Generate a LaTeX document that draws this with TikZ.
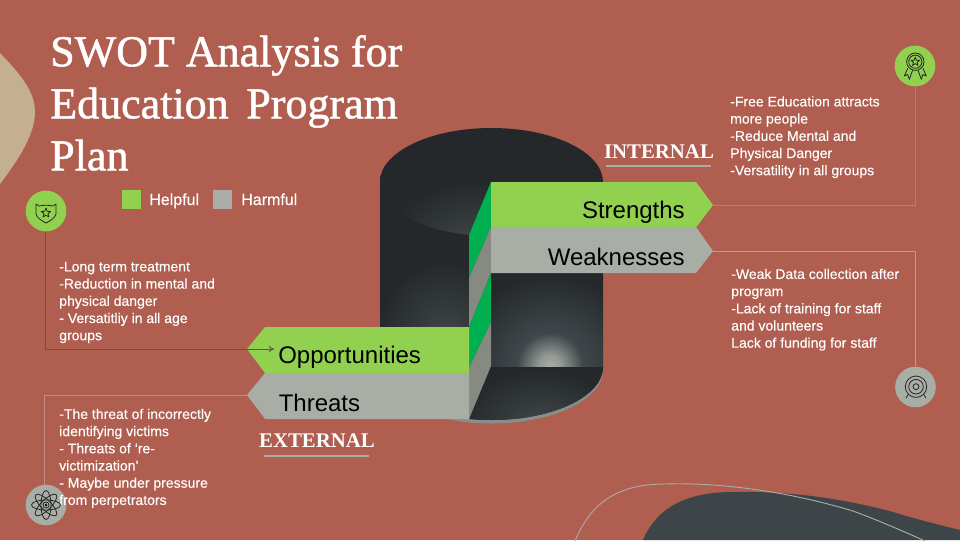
\documentclass[tikz,border=0pt]{standalone}
\usepackage{fontspec}
\usetikzlibrary{arrows.meta}
\setsansfont{Liberation Sans}
\newfontfamily\titlefont[FakeBold=1.2]{Liberation Serif}
\newfontfamily\sidefont{Liberation Serif}
\newfontfamily\bodyfont[FakeBold=0.25]{Liberation Sans}
\definecolor{bgc}{HTML}{B05E50}
\definecolor{grn}{HTML}{92D050}
\definecolor{gry}{HTML}{A8ADA6}
\definecolor{fgrn}{HTML}{00B050}
\definecolor{fgry}{HTML}{868A80}
\definecolor{drk}{HTML}{24282A}
\definecolor{mid}{HTML}{40474A}
\definecolor{tan}{HTML}{C4AF92}
\definecolor{blob}{HTML}{3E4548}
\definecolor{wireS}{HTML}{A08F50}
\definecolor{wireW}{HTML}{C39A8E}
\definecolor{wireT}{HTML}{BE8F85}
\definecolor{wireO}{HTML}{5C5654}
\pgfdeclareradialshading{glowsoft}{\pgfpoint{0bp}{0bp}}{color(0bp)=(mid); color(20bp)=(drk); color(50bp)=(drk)}
\pgfdeclareradialshading{glowhot}{\pgfpoint{0bp}{0bp}}{color(0bp)=(gry); color(2.5bp)=(gry!80!mid); color(7.5bp)=(mid); color(21bp)=(drk); color(50bp)=(drk)}
\tikzset{
  x=0.75pt,y=-0.75pt,
  body/.style={anchor=north west,inner sep=0pt,align=left,text=white,font=\bodyfont\fontsize{10.5}{12.9}\selectfont},
  leg/.style={anchor=base west,inner sep=0pt,text=white,font=\bodyfont\fontsize{12}{14}\selectfont},
  lab/.style={inner sep=0pt,text=black,font=\sffamily\fontsize{18}{20}\selectfont},
  side/.style={anchor=base,inner sep=0pt,text=white,font=\sidefont\bfseries\fontsize{15.6}{18}\selectfont},
  badge/.style={circle,minimum size=30.5pt,inner sep=0pt},
  wire/.style={line width=0.75pt},
  ico/.style={draw=black!85,line width=0.6pt,line join=round},
}
\newcommand{\icostar}[3]{\draw[ico,shift={(#1,#2)}] (-90:#3)--(-54:#3*0.42)--(-18:#3)--(18:#3*0.42)--(54:#3)--(90:#3*0.42)--(126:#3)--(162:#3*0.42)--(198:#3)--(234:#3*0.42)--cycle;}
\begin{document}
\begin{tikzpicture}
\useasboundingbox (0,0) rectangle (960,540);
\fill[bgc] (0,0) rectangle (960,540);
\begin{scope}
\clip (0,0) rectangle (960,540);
% decorative blobs
\fill[tan] (0,53) .. controls (18,72) and (35,90) .. (35,112) .. controls (35,135) and (18,160) .. (0,184) -- cycle;
\fill[blob] (643,540) .. controls (655,512) and (680,492) .. (733,492) .. controls (790,491) and (840,498) .. (893,512) .. controls (915,519) and (940,525) .. (960,530) -- (960,540) -- cycle;
\draw[gry,line width=0.7pt] (575,541) .. controls (590,505) and (615,484) .. (665,484) .. controls (720,482) and (790,492) .. (853,511) .. controls (880,521) and (905,532) .. (925,541);
\end{scope}
% cylinder
\fill[gry!70!blob] (491.5,370) ellipse [x radius=111.5,y radius=53.5];
\fill[drk] (491.5,367) ellipse [x radius=111.5,y radius=53];
\begin{scope}
\clip (491.5,367) ellipse [x radius=111.5,y radius=53];
\shade[shading=glowsoft] (440,355) rectangle (640,495);
\end{scope}
\fill[drk] (380,182) rectangle (603,366);
\begin{scope}
\clip (380,182) rectangle (470,330);
\shade[shading=glowsoft] (360,240) rectangle (530,440);
\end{scope}
\begin{scope}
\clip (491,273) rectangle (603,366);
\shade[shading=glowhot] (440,256) rectangle (660,476);
\end{scope}
\fill[drk] (491.5,182) ellipse [x radius=111.5,y radius=54];
\begin{scope}
\clip (491.5,182) ellipse [x radius=111.5,y radius=54];
\shade[shading=glowsoft] (365,165) rectangle (585,325);
\end{scope}
% folds
\fill[fgrn] (491,182) -- (469,235) -- (469,278) -- (491,227) -- cycle;
\fill[fgry] (491,227) -- (469,278) -- (469,327) -- (491,273) -- cycle;
\fill[fgrn] (491,273) -- (469,327) -- (469,368) -- (491,322) -- cycle;
\fill[fgry] (491,322) -- (469,368) -- (469,419) -- (491,366) -- cycle;
% arrow bands
\coordinate (tipS) at (713,205);
\coordinate (tipW) at (713,251);
\coordinate (tipO) at (247,349);
\coordinate (tipT) at (247,395);
\fill[grn] (491,182) -- (696,182) -- (tipS) -- (696,227.5) -- (491,227.5) -- cycle;
\fill[gry] (491,227) -- (696,227) -- (tipW) -- (696,273) -- (491,273) -- cycle;
\fill[grn] (469,327) -- (265,327) -- (tipO) -- (265,373) -- (469,373) -- cycle;
\fill[gry] (469,373) -- (265,373) -- (tipT) -- (265,419) -- (469,419) -- cycle;
% labels
\node[lab,anchor=base east] (lS) at (685,218) {Strengths};
\node[lab,anchor=base east] (lW) at (685,265) {Weaknesses};
\node[lab,anchor=base west] (lO) at (278,363) {Opportunities};
\node[lab,anchor=base west] (lT) at (278.5,411) {Threats};
% title
\node[anchor=north west,inner sep=0pt,align=left,text=white,font=\titlefont\fontsize{33}{39}\selectfont] (title) at (50,35) {SWOT Analysis for\\Education\hspace{5pt} Program\\Plan};
% legend
\node[fill=grn,minimum size=14.25pt,inner sep=0pt,anchor=north west] (kH) at (122,190) {};
\node[fill=gry,minimum size=14.25pt,inner sep=0pt,anchor=north west] (kX) at (213,190) {};
\node[leg] (tH) at (149,205) {Helpful};
\node[leg] (tX) at (241,205) {Harmful};
% side headings
\node[side] (int) at (659,158) {INTERNAL};
\coordinate (intL) at (606,166); \coordinate (intR) at (711,166);
\draw[gry,line width=2pt] (intL) -- (intR);
\node[side] (ext) at (317,447) {EXTERNAL};
\coordinate (extL) at (264,456); \coordinate (extR) at (369,456);
\draw[gry,line width=2pt] (extL) -- (extR);
% badges
\node[badge,fill=grn] (bS) at (915,66) {};
\node[badge,fill=gry] (bW) at (915.5,387) {};
\node[badge,fill=grn] (bO) at (46,211) {};
\node[badge,fill=gry] (bT) at (46,505) {};
% connectors
\coordinate (jT) at (44,485.5);
\coordinate (jO) at (45,349);
\coordinate (endO) at (274,349);
\draw[wire,color=wireS] (tipS) -| (bS.south);
\draw[wire,color=wireW] (tipW) -| (bW.north);
\draw[wire,color=wireT] (tipT) -| (jT);
\draw[wire,color=wireO,-{To[length=4pt,width=5pt]}] (bO.south -| jO) -- (jO) -- (endO);
% body text
\node[body] (tS) at (730,96) {-Free Education attracts\\more people\\-Reduce Mental and\\Physical Danger\\-Versatility in all groups};
\node[body] (tW) at (731,268.5) {-Weak Data collection after\\program\\-Lack of training for staff\\and volunteers\\Lack of funding for staff};
\node[body] (tO) at (59,261.5) {-Long term treatment\\-Reduction in mental and\\physical danger\\- Versatitliy in all age\\groups};
\node[body] (tT) at (59,408.5) {-The threat of incorrectly\\identifying victims\\- Threats of ‘re-\\victimization’\\- Maybe under pressure\\from perpetrators};
% ribbon icon
\begin{scope}[shift={(915,66)}]
\draw[ico] (0.3,-4.3) circle [radius=8.7];
\draw[ico] (0.3,-4.3) circle [radius=6.6];
\draw[ico] (-7.3,2.3) -- (-10.7,10) -- (-7.3,8.5) -- (-5.7,13.3) -- (-2.3,4);
\draw[ico] (7.9,2.3) -- (11.3,10) -- (7.9,8.5) -- (6.3,13.3) -- (2.9,4);
\end{scope}
\icostar{915.3}{61.7}{4.6}
% shield icon
\draw[ico] (36,204) -- (39,206) .. controls (43,205) and (49,205) .. (53,206) -- (56,204) -- (56,214) .. controls (55,218) and (50,221) .. (46,223) .. controls (42,221) and (37,218) .. (36,214) -- cycle;
\icostar{46}{213}{5}
% target icon
\begin{scope}[shift={(916,386.7)}]
\draw[ico] (0,0) circle [radius=10.7];
\draw[ico] (0,0) circle [radius=7.3];
\draw[ico] (0,0) circle [radius=3];
\draw[ico] (-8,8) -- (-10,11.5);
\draw[ico] (8,8) -- (10,11.5);
\end{scope}
% atom icon
\begin{scope}[shift={(46,505)}]
\foreach \a in {0,45,90,135}{\draw[ico,rotate=\a] (0,0) ellipse [x radius=14.5,y radius=5];}
\draw[ico] (0,0) circle [radius=3];
\fill[black] (0,0) circle [radius=1.3];
\end{scope}
\end{tikzpicture}
\end{document}
